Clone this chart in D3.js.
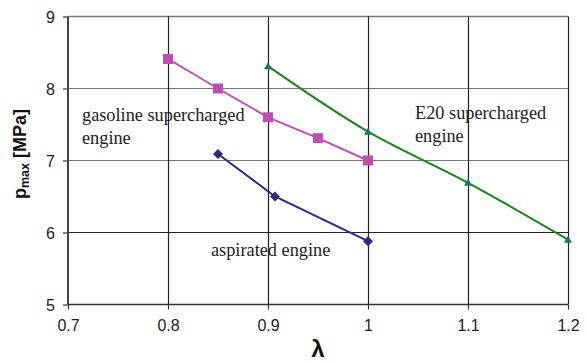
<!DOCTYPE html>
<html>
<head>
<meta charset="utf-8">
<script src="https://cdn.jsdelivr.net/npm/d3@7"></script>
<style>
	body { margin: 0; background: #fff; }
	svg { display: block; }
	.sans { font-family: 'Liberation Sans', Arial, sans-serif; }
	.serif { font-family: 'Liberation Serif', 'Times New Roman', serif; }
</style>
</head>
<body>
<div id="chart"></div>
<script>
// values
const xTicks = [0.7, 0.8, 0.9, 1, 1.1, 1.2];
const yTicks = [5, 6, 7, 8, 9];

const gasolineLambda = [0.8, 0.85, 0.9, 0.95, 1.0];
const gasolinePmax = [8.41, 8.0, 7.6, 7.31, 7.0];

const e20Lambda = [0.9, 1.0, 1.1, 1.2];
const e20Pmax = [8.31, 7.4, 6.69, 5.9];

const aspiratedLambda = [0.85, 0.907, 1.0];
const aspiratedPmax = [7.09, 6.5, 5.88];

const width = 587;
const height = 363;

const svg = d3.select('#chart')
	.append('svg')
	.attr('width', width)
	.attr('height', height);

const xScale = d3.scaleLinear()
	.domain([0.7, 1.2])
	.range([68, 568]);

const yScale = d3.scaleLinear()
	.domain([5, 9])
	.range([304.5, 16.5]);

// grid
const grid = svg.append('g');
grid.selectAll('.hgrid')
	.data(yTicks.slice(1))
	.enter()
	.append('line')
	.attr('x1', xScale(0.7))
	.attr('x2', xScale(1.2))
	.attr('y1', d => yScale(d))
	.attr('y2', d => yScale(d))
	.attr('stroke', d => d == 6 ? '#222' : '#777')
	.attr('stroke-width', d => d == 9 ? 1.5 : 1.2);

grid.selectAll('.vgrid')
	.data(xTicks.slice(1))
	.enter()
	.append('line')
	.attr('x1', d => Math.round(xScale(d)) + 0.5)
	.attr('x2', d => Math.round(xScale(d)) + 0.5)
	.attr('y1', yScale(9))
	.attr('y2', yScale(5))
	.attr('stroke', '#222')
	.attr('stroke-width', 1.2);

// axes
const xAxis = d3.axisBottom(xScale)
	.tickValues(xTicks)
	.tickSize(5)
	.tickFormat(d3.format('~g'));

const yAxis = d3.axisLeft(yScale)
	.tickValues(yTicks)
	.tickSize(5)
	.tickFormat(d3.format('d'));

const gx = svg.append('g')
	.attr('transform', `translate(0, ${yScale(5)})`)
	.call(xAxis);
gx.select('.domain').remove();
gx.append('line')
	.attr('x1', xScale(0.7))
	.attr('x2', xScale(1.2))
	.attr('stroke', '#333')
	.attr('stroke-width', 1.5);

const gy = svg.append('g')
	.attr('transform', `translate(${xScale(0.7)}, 0)`)
	.call(yAxis);
gy.select('.domain').remove();
gy.append('line')
	.attr('y1', yScale(9))
	.attr('y2', yScale(5))
	.attr('stroke', '#444')
	.attr('stroke-width', 2);

svg.selectAll('.tick line').attr('stroke', '#333').attr('stroke-width', 1.2);
svg.selectAll('.tick text')
	.attr('class', 'sans')
	.attr('font-size', 16)
	.attr('fill', '#222');
gx.selectAll('.tick text').attr('dy', '1.15em');
gy.selectAll('.tick text').attr('x', -13).attr('dy', '0.35em');
gx.attr('font-family', null);
gy.attr('font-family', null);

// series
function drawSeries(xs, ys, color, width, curve) {
	const pts = xs.map((x, i) => [x, ys[i]]);
	const line = d3.line()
		.x(d => xScale(d[0]))
		.y(d => yScale(d[1]))
		.curve(curve);
	svg.append('path')
		.datum(pts)
		.attr('d', line)
		.attr('fill', 'none')
		.attr('stroke', color)
		.attr('stroke-width', width);
	return pts;
}

const gasPts = drawSeries(gasolineLambda, gasolinePmax, '#c24fb8', 2, d3.curveLinear);
const e20Pts = drawSeries(e20Lambda, e20Pmax, '#17861a', 2, d3.curveCatmullRom.alpha(0.5));
const aspPts = drawSeries(aspiratedLambda, aspiratedPmax, '#35258c', 2, d3.curveLinear);

svg.append('g')
	.selectAll('rect')
	.data(gasPts)
	.enter()
	.append('rect')
	.attr('x', d => xScale(d[0]) - 5)
	.attr('y', d => yScale(d[1]) - 5)
	.attr('width', 10)
	.attr('height', 10)
	.attr('fill', '#c04db3');

svg.append('g')
	.selectAll('path')
	.data(aspPts)
	.enter()
	.append('path')
	.attr('transform', d => `translate(${xScale(d[0])}, ${yScale(d[1])})`)
	.attr('d', 'M0,-5L5,0L0,5L-5,0Z')
	.attr('fill', '#322585');

svg.append('g')
	.selectAll('path')
	.data(e20Pts)
	.enter()
	.append('path')
	.attr('transform', d => `translate(${xScale(d[0])}, ${yScale(d[1])})`)
	.attr('d', 'M0,-4L4,3L-4,3Z')
	.attr('fill', '#12786a');

// annotations
function label(x, y, lines) {
	const t = svg.append('text')
		.attr('class', 'serif')
		.attr('font-size', 18.3)
		.attr('fill', '#222');
	lines.forEach((s, i) => {
		t.append('tspan')
			.attr('x', x)
			.attr('y', y + i * 23)
			.text(s);
	});
}
label(82, 121, ['gasoline supercharged', 'engine']);
label(415, 119, ['E20 supercharged', 'engine']);
label(211, 256, ['aspirated engine']);

// axis titles
svg.append('text')
	.attr('class', 'sans')
	.attr('x', 318)
	.attr('y', 357)
	.attr('text-anchor', 'middle')
	.attr('font-weight', 'bold')
	.attr('font-size', 24)
	.attr('fill', '#111')
	.text('λ');

const yTitle = svg.append('text')
	.attr('class', 'sans')
	.attr('transform', 'translate(26, 154) rotate(-90)')
	.attr('text-anchor', 'middle')
	.attr('font-weight', 'bold')
	.attr('font-size', 18)
	.attr('fill', '#111');
yTitle.append('tspan').text('p');
yTitle.append('tspan').attr('font-size', 12.5).attr('dy', 3).text('max');
yTitle.append('tspan').attr('dy', -3).text(' [MPa]');
</script>
</body>
</html>
